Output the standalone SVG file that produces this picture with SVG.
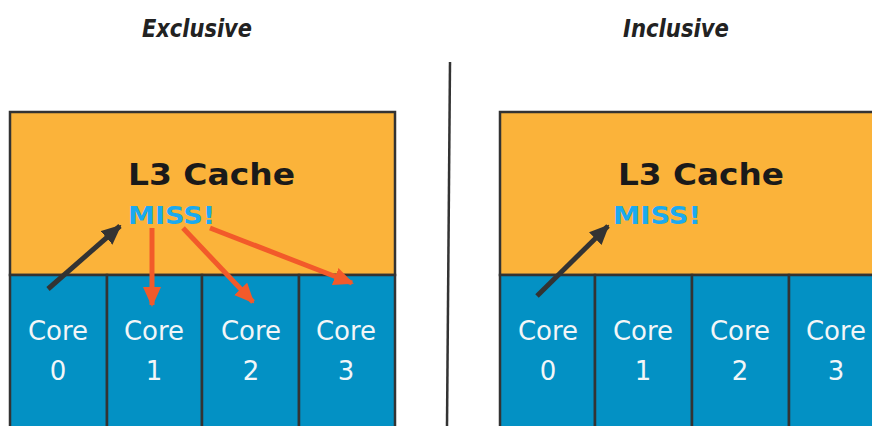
<svg xmlns="http://www.w3.org/2000/svg" width="872" height="426" viewBox="0 0 872 426">
<style>
.title{font-family:"DejaVu Sans",Verdana,sans-serif;font-weight:bold;font-style:italic;font-size:24px;fill:#222;text-anchor:middle}
.l3{fill:#fbb33a;stroke:#333;stroke-width:2.5}
.core{fill:#0391c4;stroke:#333;stroke-width:2.5}
.l3t{font-family:"DejaVu Sans",Verdana,sans-serif;font-weight:bold;font-size:31px;fill:#1a1a1a}
.miss{font-family:"DejaVu Sans",Verdana,sans-serif;font-weight:bold;font-size:25px;fill:#1aaaf0}
.ct{font-family:"DejaVu Sans",Verdana,sans-serif;font-size:26px;fill:#f2f6f8;text-anchor:middle}
.blk{stroke:#333;stroke-width:5;fill:none}
.red{stroke:#f25a2a;stroke-width:5;fill:none}
</style>
<defs>
<marker id="ab" markerUnits="userSpaceOnUse" markerWidth="20" markerHeight="18" refX="18" refY="9" orient="auto"><path d="M0,0 L20,9 L0,18 z" fill="#333"/></marker>
<marker id="ar" markerUnits="userSpaceOnUse" markerWidth="20" markerHeight="18" refX="18" refY="9" orient="auto"><path d="M0,0 L20,9 L0,18 z" fill="#f25a2a"/></marker>
</defs>
<rect width="872" height="426" fill="#fff"/>
<text class="title" x="197" y="37" textLength="110" lengthAdjust="spacingAndGlyphs">Exclusive</text>
<text class="title" x="676" y="37" textLength="106" lengthAdjust="spacingAndGlyphs">Inclusive</text>
<line x1="450" y1="62" x2="447" y2="426" stroke="#333" stroke-width="2.5"/>
<g id="ex-l3"><rect class="l3" x="10" y="112" width="385" height="163"/><text class="l3t" x="128" y="185" textLength="167" lengthAdjust="spacingAndGlyphs">L3 Cache</text><text class="miss" x="128" y="224" textLength="87" lengthAdjust="spacingAndGlyphs">MISS!</text></g>
<g id="ex-core0"><rect class="core" x="10" y="275" width="97" height="160"/><text class="ct" x="58" y="340">Core</text><text class="ct" x="58" y="380">0</text></g>
<g id="ex-core1"><rect class="core" x="107" y="275" width="95" height="160"/><text class="ct" x="154" y="340">Core</text><text class="ct" x="154" y="380">1</text></g>
<g id="ex-core2"><rect class="core" x="202" y="275" width="97" height="160"/><text class="ct" x="251" y="340">Core</text><text class="ct" x="251" y="380">2</text></g>
<g id="ex-core3"><rect class="core" x="299" y="275" width="96" height="160"/><text class="ct" x="346" y="340">Core</text><text class="ct" x="346" y="380">3</text></g>
<g id="in-l3"><rect class="l3" x="500" y="112" width="385" height="163"/><text class="l3t" x="618" y="185" textLength="166" lengthAdjust="spacingAndGlyphs">L3 Cache</text><text class="miss" x="613" y="224" textLength="88" lengthAdjust="spacingAndGlyphs">MISS!</text></g>
<g id="in-core0"><rect class="core" x="500" y="275" width="95" height="160"/><text class="ct" x="548" y="340">Core</text><text class="ct" x="548" y="380">0</text></g>
<g id="in-core1"><rect class="core" x="595" y="275" width="97" height="160"/><text class="ct" x="643" y="340">Core</text><text class="ct" x="643" y="380">1</text></g>
<g id="in-core2"><rect class="core" x="692" y="275" width="97" height="160"/><text class="ct" x="740" y="340">Core</text><text class="ct" x="740" y="380">2</text></g>
<g id="in-core3"><rect class="core" x="789" y="275" width="97" height="160"/><text class="ct" x="836" y="340">Core</text><text class="ct" x="836" y="380">3</text></g>
<g id="connectors">
<line class="blk" x1="48" y1="289" x2="120" y2="226" marker-end="url(#ab)"/>
<line class="red" x1="152" y1="228" x2="152" y2="305" marker-end="url(#ar)"/>
<line class="red" x1="183" y1="228" x2="253" y2="302" marker-end="url(#ar)"/>
<line class="red" x1="210" y1="228" x2="352" y2="283" marker-end="url(#ar)"/>
<line class="blk" x1="537" y1="296" x2="608" y2="226" marker-end="url(#ab)"/>
</g>
</svg>
